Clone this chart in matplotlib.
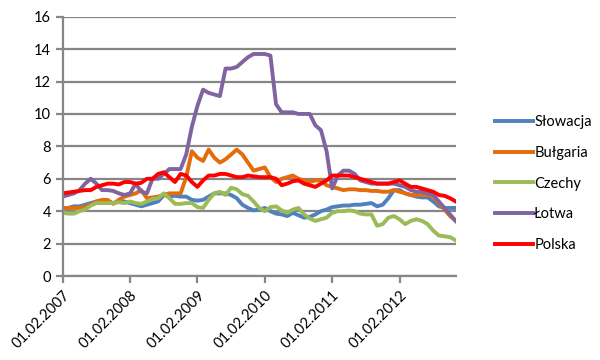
import matplotlib
matplotlib.use('Agg')
import matplotlib.pyplot as plt

plt.rcParams['font.family'] = ['Lato', 'DejaVu Sans']

# monthly, 01.02.2007 .. 01.12.2012
n_months = 71
tick_labels = ['01.02.2007', '01.02.2008', '01.02.2009', '01.02.2010', '01.02.2011', '01.02.2012']

slowacja = [4.2, 4.2, 4.3, 4.3, 4.4, 4.5, 4.6, 4.6, 4.6, 4.5, 4.6, 4.6,
            4.5, 4.4, 4.3, 4.4, 4.5, 4.6, 5.0, 4.9, 4.95, 4.9, 4.9, 4.7,
            4.65, 4.7, 4.9, 5.1, 5.1, 5.1, 5.0, 4.8, 4.4, 4.2, 4.05, 4.1,
            4.2, 4.0, 3.85, 3.8, 3.7, 3.9, 3.75, 3.6, 3.65, 3.8, 4.0, 4.1,
            4.25, 4.3, 4.35, 4.35, 4.4, 4.4, 4.45, 4.5, 4.3, 4.4, 4.8, 5.3,
            5.3, 5.1, 5.0, 4.9, 4.85, 4.85, 4.6, 4.3, 4.2, 4.2, 4.2]
bulgaria = [4.2, 4.2, 4.2, 4.2, 4.25, 4.4, 4.6, 4.7, 4.7, 4.45, 4.7, 4.9,
            5.0, 5.1, 5.3, 4.8, 4.85, 4.9, 5.0, 5.1, 5.1, 5.1, 6.1, 7.7,
            7.3, 7.1, 7.8, 7.3, 7.0, 7.2, 7.5, 7.8, 7.5, 7.0, 6.5, 6.6,
            6.7, 6.1, 5.8, 6.0, 6.1, 6.2, 6.0, 5.9, 5.8, 5.9, 5.9, 5.6,
            5.5, 5.4, 5.3, 5.35, 5.35, 5.3, 5.3, 5.25, 5.25, 5.2, 5.2, 5.3,
            5.2, 5.1, 5.0, 5.0, 5.0, 5.0, 4.9, 4.5, 4.1, 3.7, 3.4]
czechy = [3.9, 3.85, 3.85, 4.0, 4.1, 4.35, 4.5, 4.5, 4.5, 4.5, 4.55, 4.5,
          4.6, 4.5, 4.45, 4.6, 4.75, 4.8, 5.1, 4.8, 4.45, 4.45, 4.5, 4.5,
          4.25, 4.2, 4.7, 5.1, 5.2, 5.0, 5.45, 5.35, 5.05, 4.95, 4.6, 4.2,
          4.0, 4.25, 4.3, 4.05, 3.9, 4.1, 4.2, 3.8, 3.55, 3.4, 3.5, 3.6,
          3.9, 4.0, 4.0, 4.05, 4.0, 3.85, 3.8, 3.8, 3.1, 3.2, 3.6, 3.7,
          3.5, 3.2, 3.4, 3.5, 3.4, 3.2, 2.8, 2.5, 2.45, 2.4, 2.2]
lotwa = [4.9, 5.0, 5.1, 5.3, 5.7, 6.0, 5.7, 5.3, 5.3, 5.25, 5.1, 5.0,
         5.1, 5.7, 5.2, 5.1, 6.0, 6.0, 6.3, 6.6, 6.6, 6.6, 7.5, 9.2,
         10.5, 11.5, 11.3, 11.2, 11.1, 12.8, 12.8, 12.9, 13.2, 13.5, 13.7, 13.7,
         13.7, 13.6, 10.6, 10.1, 10.1, 10.1, 10.0, 10.0, 10.0, 9.3, 9.0, 7.7,
         5.4, 6.2, 6.5, 6.5, 6.3, 5.9, 5.8, 5.7, 5.7, 5.7, 5.7, 5.7,
         5.6, 5.5, 5.3, 5.2, 5.2, 5.1, 5.0, 4.6, 4.2, 3.8, 3.4]
polska = [5.1, 5.15, 5.2, 5.25, 5.3, 5.3, 5.5, 5.6, 5.7, 5.7, 5.65, 5.8,
          5.8, 5.7, 5.75, 6.0, 6.0, 6.3, 6.4, 6.1, 5.8, 6.3, 6.2, 5.8,
          5.5, 5.9, 6.2, 6.2, 6.3, 6.3, 6.2, 6.1, 6.1, 6.2, 6.15, 6.1,
          6.1, 6.1, 6.0, 5.6, 5.7, 5.85, 5.9, 5.7, 5.6, 5.5, 5.7, 5.9,
          6.2, 6.2, 6.2, 6.2, 6.1, 6.0, 5.9, 5.8, 5.7, 5.7, 5.7, 5.8,
          5.9, 5.7, 5.5, 5.5, 5.4, 5.3, 5.2, 5.0, 4.95, 4.8, 4.6]

series = [('Słowacja', slowacja, '#4F81BD'),
          ('Bułgaria', bulgaria, '#E46C0A'),
          ('Czechy', czechy, '#9BBB59'),
          ('Łotwa', lotwa, '#8064A2'),
          ('Polska', polska, '#FF0000')]

grid_col = '#868686'

fig = plt.figure(figsize=(6, 3.6), dpi=100)
ax = fig.add_axes([0.1045, 0.2333, 0.655, 0.7203])

x = list(range(n_months))
for name, vals, col in series:
    ax.plot(x, vals, color=col, lw=2.8, label=name, solid_joinstyle='round')

ax.set_xlim(0, n_months - 1)
ax.set_ylim(0, 16)
ax.set_yticks(range(0, 17, 2))
ax.set_xticks(range(0, n_months, 12))
ax.set_xticklabels(tick_labels, rotation=45, ha='right', rotation_mode='anchor')
ax.yaxis.grid(True, color=grid_col, lw=1.6)
ax.set_axisbelow(True)

for s in ['top', 'right']:
    ax.spines[s].set_visible(False)
for s in ['left', 'bottom']:
    ax.spines[s].set_color(grid_col)
    ax.spines[s].set_linewidth(1.6)
ax.tick_params(axis='both', colors=grid_col, width=1.6, length=5, labelsize=10.5,
               labelcolor='black')
ax.tick_params(axis='x', pad=4)

fig.legend(loc='center left', bbox_to_anchor=(0.803, 0.49), frameon=False,
           fontsize=10.5, handlelength=2.6, handletextpad=0.1, labelspacing=1.15)

fig.savefig('out.png', dpi=100)
